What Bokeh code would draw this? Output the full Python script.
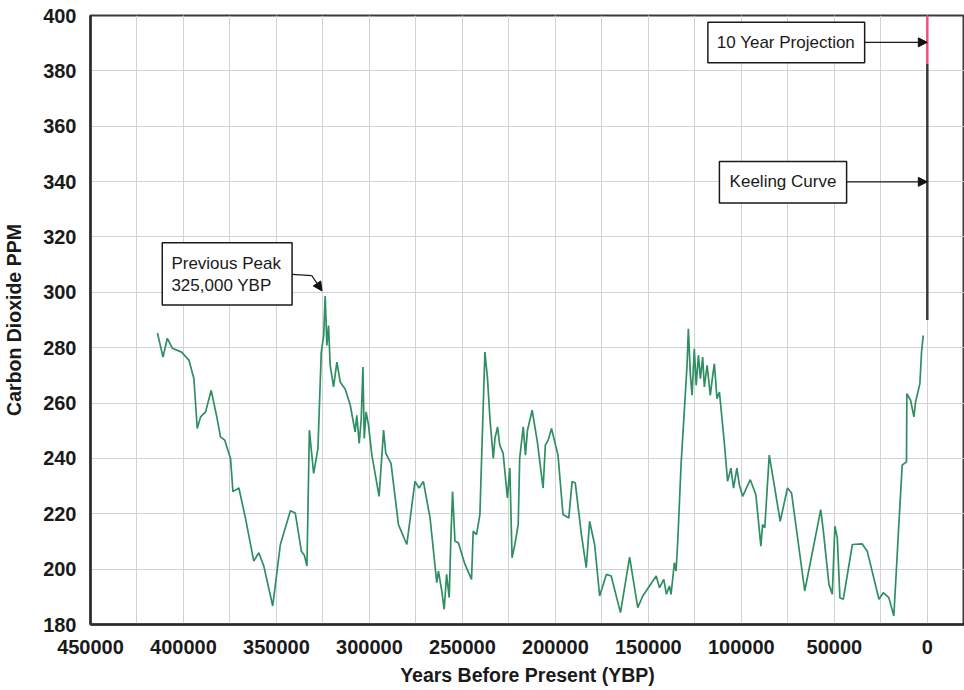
from bokeh.plotting import figure
from bokeh.embed import file_html
from bokeh.resources import INLINE
from bokeh.models import (Range1d, SingleIntervalTicker, NumeralTickFormatter,
                          Arrow, NormalHead)
from bokeh.core.properties import value

# ---- data ----
years = [414000, 411000, 408700, 406000, 401000, 397000, 394400, 392600, 390800, 388100,
         385100, 381900, 380100, 377800, 374700, 373400, 370200, 366700, 362200, 359500,
         356800, 352000, 347900, 342500, 339900, 336600, 335000, 333600, 332300, 330000,
         327700, 325900, 324600, 323800, 322900, 322000, 321100, 319300, 317500, 315700,
         313000, 310300, 307700, 306800, 305500, 304400, 303500, 302800, 301800, 300500,
         298700, 294800, 292400, 291200, 288400, 284400, 279900, 275500, 273300, 271000,
         267400, 263800, 262900, 261100, 259800, 258500, 257100, 256200, 255300, 254000,
         252200, 248600, 245100, 244200, 242400, 240600, 238800, 237900, 236500, 235200,
         233400, 232500, 231100, 229900, 228100, 225800, 224500, 223300, 221800, 220000,
         219200, 217300, 216100, 215000, 212500, 209700, 206600, 205400, 203900, 202100,
         198600, 195900, 192800, 191000, 189300, 186000, 183400, 181600, 178900, 176200,
         172600, 170000, 165000, 160100, 155700, 153000, 145800, 144000, 141700, 140300,
         138700, 137800, 136000, 135100, 134200, 132400, 130600, 129200, 128500, 127400,
         126500, 125300, 124300, 123100, 122000, 120800, 119900, 118400, 116700, 115400,
         114500, 113100, 111800, 109200, 107400, 105600, 104200, 102400, 101100, 99300,
         95200, 92200, 89500, 88600, 87400, 85000, 83200, 79100, 75200, 73000,
         65900, 57300, 55900, 52900, 51100, 49700, 48400, 47000, 45200, 40300,
         35000, 32300, 26000, 23700, 20700, 18000, 15300, 13500, 11200, 11000,
         9000, 7200, 6300, 4000, 3100, 2200]
co2_ppm = [285.3, 276.6, 283.4, 279.8, 278.4, 275.4, 268.8, 250.8, 255.0, 256.8,
           264.6, 254.4, 247.8, 246.6, 240.0, 228.0, 229.3, 218.5, 202.9, 205.9,
           201.1, 186.7, 208.9, 221.1, 220.3, 206.5, 205.0, 201.1, 250.2, 234.6,
           243.5, 278.4, 284.4, 298.7, 280.8, 288.0, 273.6, 265.8, 274.8, 267.6,
           265.0, 259.2, 249.6, 255.6, 245.4, 254.4, 273.0, 247.2, 256.8, 252.0,
           241.2, 226.3, 250.2, 241.8, 238.2, 216.1, 208.9, 231.7, 229.3, 231.7,
           218.5, 195.1, 199.3, 192.1, 185.5, 198.1, 189.7, 211.3, 228.0, 210.1,
           209.5, 201.7, 196.3, 213.7, 212.5, 219.7, 259.2, 278.4, 268.8, 254.4,
           240.0, 247.2, 251.4, 244.8, 241.8, 225.7, 236.5, 204.1, 208.9, 216.1,
           240.0, 251.4, 241.2, 250.2, 257.4, 246.0, 229.3, 244.8, 246.6, 250.8,
           241.2, 219.7, 218.5, 231.7, 231.1, 212.5, 200.5, 217.3, 208.9, 190.3,
           198.1, 197.5, 184.3, 204.3, 186.1, 190.3, 197.5, 193.3, 196.3, 190.9,
           193.9, 190.9, 202.3, 199.3, 210.1, 238.0, 258.0, 273.6, 286.8, 270.0,
           262.8, 279.6, 266.4, 277.2, 268.8, 276.6, 265.8, 273.6, 262.8, 270.0,
           274.2, 261.6, 264.0, 246.0, 231.7, 236.5, 229.3, 236.5, 230.5, 226.3,
           232.3, 226.9, 208.3, 216.1, 214.9, 241.2, 234.0, 217.3, 229.3, 227.5,
           192.1, 221.5, 213.7, 194.5, 190.9, 215.5, 211.3, 189.7, 189.1, 208.9,
           209.1, 206.5, 189.1, 191.5, 189.7, 183.1, 216.1, 237.6, 238.8, 263.4,
           261.0, 255.0, 260.4, 267.0, 278.4, 284.4]

keeling_x = [0, 0]
keeling_ppm = [290, 382.5]
projection_x = [0, 0]
projection_ppm = [382.5, 400]

x_tick_interval = 50000
y_tick_interval = 20

FONT = "Liberation Sans"
TXT = "#1a1a1a"

p = figure(width=964, height=688, output_backend="svg", toolbar_location=None,
           x_range=Range1d(450000, -20000), y_range=Range1d(180, 400),
           min_border_left=88, min_border_right=0, min_border_top=15, min_border_bottom=61)
p.background_fill_color = "white"
p.border_fill_color = "white"
p.outline_line_color = "#3a3a3a"
p.outline_line_width = 2

# axes
p.xaxis.ticker = SingleIntervalTicker(interval=x_tick_interval, num_minor_ticks=2)
p.yaxis.ticker = SingleIntervalTicker(interval=y_tick_interval)
p.xaxis.formatter = NumeralTickFormatter(format="0")
for ax in (p.xaxis, p.yaxis):
    ax.major_tick_out = 0
    ax.major_tick_in = 0
    ax.minor_tick_line_color = None
    ax.axis_line_color = "#2a2a2a"
    ax.axis_line_width = 2.5
    ax.major_label_text_font = FONT
    ax.major_label_text_font_style = "bold"
    ax.major_label_text_font_size = "20px"
    ax.major_label_text_color = TXT
    ax.axis_label_text_font = FONT
    ax.axis_label_text_font_style = "bold"
    ax.axis_label_text_font_size = "19.5px"
    ax.axis_label_text_color = TXT
p.xaxis.axis_label = "Years Before Present (YBP)"
p.yaxis.axis_label = "Carbon Dioxide PPM"
p.xaxis.major_label_standoff = 11
p.xaxis.axis_label_standoff = 7
p.yaxis.major_label_standoff = 10
p.yaxis.axis_label_standoff = 15

p.xgrid.grid_line_color = "#d2d2d2"
p.xgrid.minor_grid_line_color = "#d2d2d2"
p.ygrid.grid_line_color = "#d2d2d2"

# data lines
p.line(years, co2_ppm, line_color="#2f8f62", line_width=1.7)
p.line(keeling_x, keeling_ppm, line_color="#3a3a3a", line_width=2.5)
p.line(projection_x, projection_ppm, line_color="#f0507a", line_width=2.5)

# annotation boxes
p.quad(left=[118000, 111800, 411400], right=[33700, 43400, 341600],
       top=[397.6, 347.3, 317.9], bottom=[382.9, 332.3, 295.4],
       fill_color="white", line_color="#1a1a1a", line_width=1.5)

p.text(x=[76000, 77600], y=[390.3, 339.9], text=["10 Year Projection", "Keeling Curve"],
       text_font=value(FONT), text_font_size="17px", text_color=TXT,
       text_align="center", text_baseline="middle")
p.text(x=[406500, 406500], y=[310.3, 302.6], text=["Previous Peak", "325,000 YBP"],
       text_font=value(FONT), text_font_size="17px", text_color=TXT,
       text_align="left", text_baseline="middle")

head = dict(size=9, fill_color="#111111", line_color="#111111")
p.add_layout(Arrow(end=NormalHead(**head), x_start=33700, y_start=390.3, x_end=0, y_end=390.3,
                   line_color="#1a1a1a", line_width=1.2))
p.add_layout(Arrow(end=NormalHead(**head), x_start=43400, y_start=339.9, x_end=0, y_end=339.9,
                   line_color="#1a1a1a", line_width=1.2))
p.line([341600, 331000], [306.5, 306.0], line_color="#1a1a1a", line_width=1.2)
p.add_layout(Arrow(end=NormalHead(**head), x_start=331000, y_start=306.0, x_end=325500, y_end=300.5,
                   line_color="#1a1a1a", line_width=1.2))

open("out.html", "w").write(file_html(p, INLINE))
